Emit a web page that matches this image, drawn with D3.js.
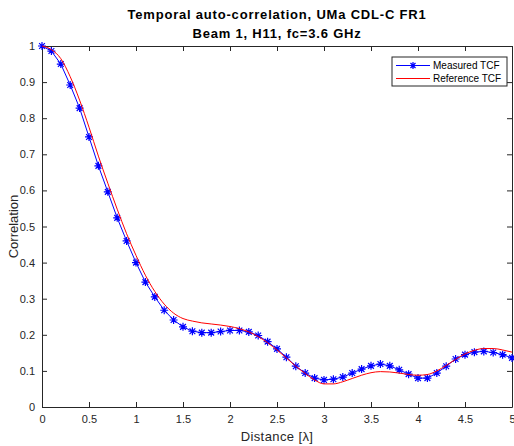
<!DOCTYPE html>
<html>
<head>
<meta charset="utf-8">
<script src="https://cdn.jsdelivr.net/npm/d3@7"></script>
<style>
  body { margin: 0; background: #fff; }
  text { font-family: "Liberation Sans", Arial, sans-serif; }
</style>
</head>
<body>
<div id="viz"></div>
<script>
// distance samples (in wavelengths)
var distance = d3.range(51).map(function (i) { return +(i * 0.1).toFixed(1); });

var measuredTCF = [1.000, 0.986, 0.950, 0.892, 0.828, 0.748, 0.668, 0.596, 0.524, 0.460,
    0.400, 0.346, 0.305, 0.268, 0.241, 0.222, 0.210, 0.206, 0.206, 0.209,
    0.212, 0.212, 0.208, 0.198, 0.181, 0.161, 0.138, 0.113, 0.094, 0.080,
    0.075, 0.077, 0.083, 0.094, 0.105, 0.114, 0.119, 0.114, 0.103, 0.091,
    0.080, 0.080, 0.094, 0.113, 0.133, 0.145, 0.152, 0.154, 0.151, 0.145, 0.136];

var referenceTCF = [1.000, 0.990, 0.965, 0.915, 0.850, 0.775, 0.695, 0.620, 0.548, 0.480,
    0.420, 0.365, 0.320, 0.285, 0.260, 0.245, 0.238, 0.233, 0.230, 0.227,
    0.223, 0.217, 0.208, 0.195, 0.178, 0.158, 0.136, 0.113, 0.093, 0.075,
    0.064, 0.064, 0.070, 0.079, 0.088, 0.095, 0.098, 0.097, 0.094, 0.090,
    0.088, 0.090, 0.100, 0.115, 0.132, 0.147, 0.157, 0.162, 0.162, 0.158, 0.152];

var xTicks = [0, 0.5, 1, 1.5, 2, 2.5, 3, 3.5, 4, 4.5, 5];
var yTicks = [0, 0.1, 0.2, 0.3, 0.4, 0.5, 0.6, 0.7, 0.8, 0.9, 1];

var titleLines = ["Temporal auto-correlation, UMa CDL-C FR1", "Beam 1, H11, fc=3.6 GHz"];
var legendNames = ["Measured TCF", "Reference TCF"];

const width = 514;
const height = 446;
const margin = {top: 46, right: 2, bottom: 39, left: 42};

var svg = d3.select("#viz")
    .append("svg")
    .attr("width", width)
    .attr("height", height);

var x = d3.scaleLinear().domain([0, 5]).range([margin.left, width - margin.right]);
var y = d3.scaleLinear().domain([0, 1]).range([height - margin.bottom, margin.top]);

// clip for plot lines
svg.append("defs").append("clipPath")
    .attr("id", "plotclip")
    .append("rect")
    .attr("x", x(0) - 6).attr("y", y(1) - 6)
    .attr("width", x(5) - x(0) + 12).attr("height", y(0) - y(1) + 12);

// axes, MATLAB style: ticks inside on all four sides
var tickColor = "#262626";
svg.append("g")
    .attr("transform", `translate(0,${y(0)})`)
    .call(d3.axisBottom(x).tickValues(xTicks).tickSizeInner(-5).tickSizeOuter(0).tickPadding(8)
        .tickFormat(function (d) { return d; }));
svg.append("g")
    .attr("transform", `translate(0,${y(1)})`)
    .call(d3.axisTop(x).tickValues(xTicks).tickSizeInner(-5).tickSizeOuter(0).tickFormat(""));
svg.append("g")
    .attr("transform", `translate(${x(0)},0)`)
    .call(d3.axisLeft(y).tickValues(yTicks).tickSizeInner(-5).tickSizeOuter(0).tickPadding(7)
        .tickFormat(function (d) { return d; }));
svg.append("g")
    .attr("transform", `translate(${x(5)},0)`)
    .call(d3.axisRight(y).tickValues(yTicks).tickSizeInner(-5).tickSizeOuter(0).tickFormat(""));

svg.selectAll(".domain").attr("stroke", tickColor);
svg.selectAll(".tick line").attr("stroke", tickColor);
svg.selectAll(".tick text")
    .attr("fill", tickColor)
    .style("font-size", "11px")
    .style("font-family", "'Liberation Sans', Arial, sans-serif");

// lines
var plot = svg.append("g").attr("clip-path", "url(#plotclip)");

var blueLine = d3.line()
    .x(function (d, i) { return x(distance[i]); })
    .y(function (d) { return y(d); });

var redLine = d3.line()
    .x(function (d, i) { return x(distance[i]); })
    .y(function (d) { return y(d); })
    .curve(d3.curveMonotoneX);

plot.append("path")
    .attr("d", blueLine(measuredTCF))
    .attr("fill", "none")
    .attr("stroke", "#0000ff")
    .attr("stroke-width", 1);

// asterisk marker
function star(g, cx, cy, r) {
    var d = `M${cx - r},${cy}L${cx + r},${cy}M${cx},${cy - r}L${cx},${cy + r}` +
        `M${cx - r * 0.72},${cy - r * 0.72}L${cx + r * 0.72},${cy + r * 0.72}` +
        `M${cx - r * 0.72},${cy + r * 0.72}L${cx + r * 0.72},${cy - r * 0.72}`;
    g.append("path").attr("d", d).attr("stroke", "#0000ff").attr("stroke-width", 1.2).attr("fill", "none");
}

var markers = plot.append("g");
measuredTCF.forEach(function (v, i) {
    star(markers, x(distance[i]), y(v), 4);
});

plot.append("path")
    .attr("d", redLine(referenceTCF))
    .attr("fill", "none")
    .attr("stroke", "#ff0000")
    .attr("stroke-width", 1);

// title
svg.append("g").selectAll("text")
    .data(titleLines)
    .enter()
    .append("text")
    .attr("x", (x(0) + x(5)) / 2)
    .attr("y", function (d, i) { return 19 + i * 19; })
    .attr("text-anchor", "middle")
    .style("font-size", "13px")
    .style("font-weight", "bold")
    .style("letter-spacing", "0.8px")
    .attr("fill", "#000")
    .text(function (d) { return d; });

// axis labels
svg.append("text")
    .attr("x", (x(0) + x(5)) / 2)
    .attr("y", 441)
    .attr("text-anchor", "middle")
    .style("font-size", "13px")
    .style("letter-spacing", "0.4px")
    .attr("fill", tickColor)
    .text("Distance [λ]");

svg.append("text")
    .attr("transform", `translate(18,${(y(0) + y(1)) / 2}) rotate(-90)`)
    .attr("text-anchor", "middle")
    .style("font-size", "13px")
    .attr("fill", tickColor)
    .text("Correlation");

// legend
var legend = svg.append("g").attr("transform", "translate(392,57)");
legend.append("rect")
    .attr("width", 115).attr("height", 29)
    .attr("fill", "#fff").attr("stroke", tickColor).attr("stroke-width", 1);

var legendColors = ["#0000ff", "#ff0000"];
legendNames.forEach(function (name, i) {
    var ly = 8.5 + i * 13;
    legend.append("line")
        .attr("x1", 4).attr("x2", 38).attr("y1", ly).attr("y2", ly)
        .attr("stroke", legendColors[i]).attr("stroke-width", 1);
    if (i == 0) {
        star(legend, 21, ly, 3.5);
    }
    legend.append("text")
        .attr("x", 41).attr("y", ly + 3.5)
        .style("font-size", "10px")
        .attr("fill", "#000")
        .text(name);
});
</script>
</body>
</html>
